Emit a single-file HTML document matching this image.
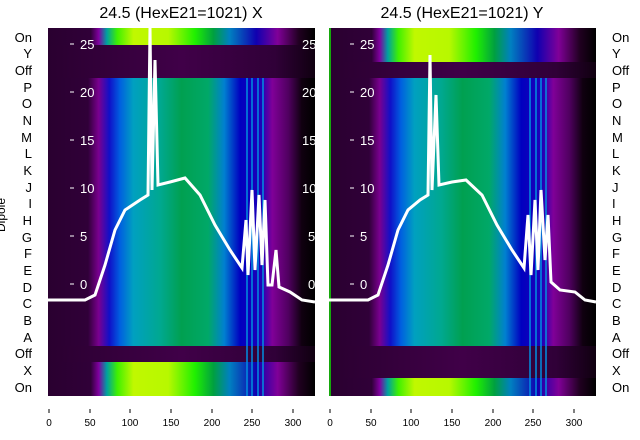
<!DOCTYPE html>
<html><head><style>body{margin:0;background:#fff}svg{display:block}</style></head><body>
<svg width="640" height="440" xmlns="http://www.w3.org/2000/svg" font-family="Liberation Sans, DejaVu Sans, sans-serif">
<defs>
<linearGradient id="m" x1="0" x2="1" y1="0" y2="0">
<stop offset="0" stop-color="#2a0030"/><stop offset="0.15" stop-color="#300038"/>
<stop offset="0.19" stop-color="#7a0090"/><stop offset="0.23" stop-color="#1010c8"/>
<stop offset="0.27" stop-color="#0060e0"/><stop offset="0.32" stop-color="#00a0c0"/>
<stop offset="0.42" stop-color="#00a890"/><stop offset="0.5" stop-color="#00a050"/>
<stop offset="0.6" stop-color="#00a868"/><stop offset="0.66" stop-color="#0080d0"/>
<stop offset="0.72" stop-color="#0000c0"/><stop offset="0.8" stop-color="#2000b8"/>
<stop offset="0.84" stop-color="#800098"/><stop offset="0.9" stop-color="#500060"/>
<stop offset="0.95" stop-color="#100010"/><stop offset="1" stop-color="#000"/>
</linearGradient>
<linearGradient id="g" x1="0" x2="1" y1="0" y2="0">
<stop offset="0" stop-color="#2a0030"/><stop offset="0.16" stop-color="#300038"/>
<stop offset="0.19" stop-color="#8000a0"/><stop offset="0.22" stop-color="#00a0a0"/>
<stop offset="0.26" stop-color="#40f000"/><stop offset="0.32" stop-color="#c0f800"/>
<stop offset="0.45" stop-color="#b8f800"/><stop offset="0.55" stop-color="#20f000"/>
<stop offset="0.62" stop-color="#00a040"/><stop offset="0.68" stop-color="#0080c0"/>
<stop offset="0.78" stop-color="#1000b0"/><stop offset="0.86" stop-color="#800098"/>
<stop offset="0.94" stop-color="#200020"/><stop offset="1" stop-color="#000"/>
</linearGradient>
<linearGradient id="d" x1="0" x2="1" y1="0" y2="0">
<stop offset="0" stop-color="#2a0030"/><stop offset="0.5" stop-color="#400048"/><stop offset="0.85" stop-color="#300038"/><stop offset="1" stop-color="#100010"/>
</linearGradient>
</defs>
<g font-size="16" text-anchor="middle" fill="#000">
<text x="181" y="18">24.5 (HexE21=1021) X</text>
<text x="462" y="18">24.5 (HexE21=1021) Y</text>
</g>
<!-- left panel -->
<rect x="48" y="28" width="267" height="368" fill="url(#m)"/>
<rect x="48" y="28" width="267" height="17" fill="url(#g)"/>
<rect x="48" y="45" width="267" height="33" fill="url(#d)"/>
<rect x="48" y="346" width="267" height="16" fill="url(#d)"/>
<rect x="48" y="362" width="267" height="34" fill="url(#g)"/>
<g stroke="#0090e0" stroke-width="1.5"><line x1="247" y1="78" x2="247" y2="396"/><line x1="252" y1="78" x2="252" y2="396"/><line x1="258" y1="78" x2="258" y2="396"/><line x1="263" y1="78" x2="263" y2="396"/></g>
<polyline fill="none" stroke="#fff" stroke-width="3" points="48,300 85,300 95,295 105,265 115,230 125,210 140,200 148,195 150,28 152,190 155,60 158,185 170,182 185,178 200,195 215,225 230,250 242,268 246,220 248,275 252,190 255,270 259,195 262,265 265,200 268,285 272,285 276,250 279,287 290,292 302,300 315,302"/>
<g fill="#fff" font-size="13"><text x="80" y="49">25</text><text x="80" y="97">20</text><text x="80" y="145">15</text><text x="80" y="193">10</text><text x="80" y="241">5</text><text x="80" y="289">0</text></g>
<g fill="#fff" font-size="13"><text x="302" y="49">25</text><text x="302" y="97">20</text><text x="302" y="145">15</text><text x="302" y="193">10</text><text x="308" y="241">5</text><text x="308" y="289">0</text></g>
<g stroke="#fff"><line x1="70" y1="44" x2="74" y2="44"/><line x1="70" y1="92" x2="74" y2="92"/><line x1="70" y1="140" x2="74" y2="140"/><line x1="70" y1="188" x2="74" y2="188"/><line x1="70" y1="236" x2="74" y2="236"/><line x1="70" y1="284" x2="74" y2="284"/></g>
<!-- right panel -->
<rect x="329" y="28" width="267" height="368" fill="url(#m)"/>
<rect x="329" y="28" width="267" height="34" fill="url(#g)"/>
<rect x="329" y="62" width="267" height="16" fill="url(#d)"/>
<rect x="329" y="346" width="267" height="32" fill="url(#d)"/>
<rect x="329" y="378" width="267" height="18" fill="url(#g)"/>
<line x1="330" y1="28" x2="330" y2="396" stroke="#10e000" stroke-width="1.5"/>
<g stroke="#0090e0" stroke-width="1.5"><line x1="530" y1="78" x2="530" y2="396"/><line x1="536" y1="78" x2="536" y2="396"/><line x1="541" y1="78" x2="541" y2="396"/><line x1="546" y1="78" x2="546" y2="396"/></g>
<polyline fill="none" stroke="#fff" stroke-width="3" points="329,300 368,300 378,295 388,265 398,230 408,210 420,200 428,195 430,55 432,190 436,95 439,185 452,182 466,180 482,195 497,225 512,250 524,268 528,215 531,275 535,200 538,270 541,190 545,260 548,215 551,282 560,290 575,292 585,300 596,302"/>
<g fill="#fff" font-size="13"><text x="360" y="49">25</text><text x="360" y="97">20</text><text x="360" y="145">15</text><text x="360" y="193">10</text><text x="360" y="241">5</text><text x="360" y="289">0</text></g>
<g stroke="#fff"><line x1="350" y1="44" x2="354" y2="44"/><line x1="350" y1="92" x2="354" y2="92"/><line x1="350" y1="140" x2="354" y2="140"/><line x1="350" y1="188" x2="354" y2="188"/><line x1="350" y1="236" x2="354" y2="236"/><line x1="350" y1="284" x2="354" y2="284"/></g>
<!-- row labels -->
<g font-size="13" text-anchor="end" fill="#000">
<text x="32" y="42">On</text><text x="32" y="58">Y</text><text x="32" y="75">Off</text><text x="32" y="92">P</text><text x="32" y="108">O</text><text x="32" y="125">N</text><text x="32" y="142">M</text><text x="32" y="158">L</text><text x="32" y="175">K</text><text x="32" y="192">J</text><text x="32" y="208">I</text><text x="32" y="225">H</text><text x="32" y="242">G</text><text x="32" y="258">F</text><text x="32" y="275">E</text><text x="32" y="292">D</text><text x="32" y="308">C</text><text x="32" y="325">B</text><text x="32" y="342">A</text><text x="32" y="358">Off</text><text x="32" y="375">X</text><text x="32" y="392">On</text>
</g>
<g font-size="13" text-anchor="start" fill="#000">
<text x="612" y="42">On</text><text x="612" y="58">Y</text><text x="612" y="75">Off</text><text x="612" y="92">P</text><text x="612" y="108">O</text><text x="612" y="125">N</text><text x="612" y="142">M</text><text x="612" y="158">L</text><text x="612" y="175">K</text><text x="612" y="192">J</text><text x="612" y="208">I</text><text x="612" y="225">H</text><text x="612" y="242">G</text><text x="612" y="258">F</text><text x="612" y="275">E</text><text x="612" y="292">D</text><text x="612" y="308">C</text><text x="612" y="325">B</text><text x="612" y="342">A</text><text x="612" y="358">Off</text><text x="612" y="375">X</text><text x="612" y="392">On</text>
</g>
<text transform="translate(5,215) rotate(-90)" font-size="12" text-anchor="middle">Dipole</text>
<!-- x ticks -->
<g font-size="10" text-anchor="middle" fill="#000">
<text x="49" y="426">0</text><text x="90" y="426">50</text><text x="130" y="426">100</text><text x="171" y="426">150</text><text x="212" y="426">200</text><text x="252" y="426">250</text><text x="293" y="426">300</text>
<text x="330" y="426">0</text><text x="371" y="426">50</text><text x="411" y="426">100</text><text x="452" y="426">150</text><text x="493" y="426">200</text><text x="533" y="426">250</text><text x="574" y="426">300</text>
</g>
<g stroke="#000"><line x1="49" y1="409" x2="49" y2="413"/><line x1="90" y1="409" x2="90" y2="413"/><line x1="130" y1="409" x2="130" y2="413"/><line x1="171" y1="409" x2="171" y2="413"/><line x1="212" y1="409" x2="212" y2="413"/><line x1="252" y1="409" x2="252" y2="413"/><line x1="293" y1="409" x2="293" y2="413"/>
<line x1="330" y1="409" x2="330" y2="413"/><line x1="371" y1="409" x2="371" y2="413"/><line x1="411" y1="409" x2="411" y2="413"/><line x1="452" y1="409" x2="452" y2="413"/><line x1="493" y1="409" x2="493" y2="413"/><line x1="533" y1="409" x2="533" y2="413"/><line x1="574" y1="409" x2="574" y2="413"/></g>
</svg>
</body></html>
